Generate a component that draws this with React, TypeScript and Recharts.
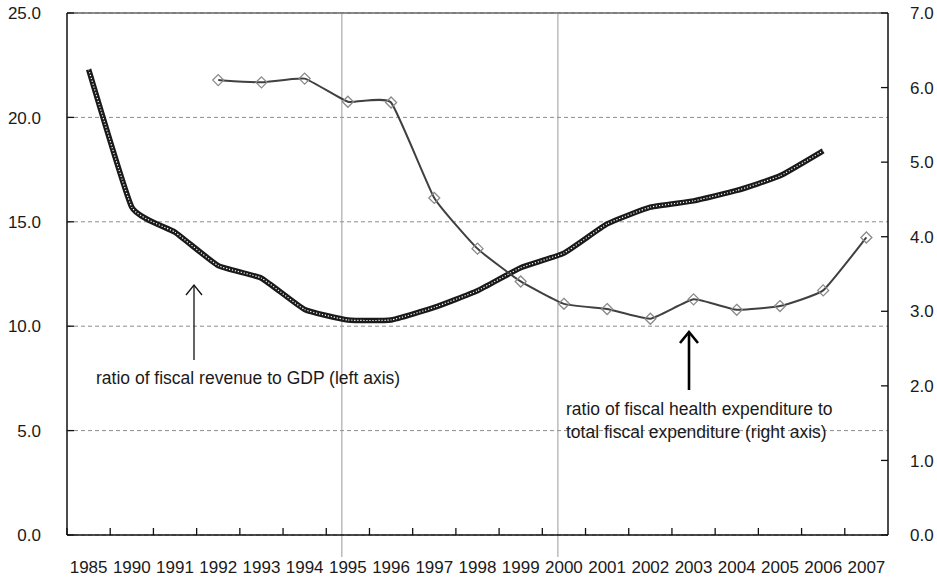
import {
  LineChart, Line, XAxis, YAxis, CartesianGrid, ReferenceLine,
} from 'recharts';

const YEARS = [
  '1985', '1990', '1991', '1992', '1993', '1994', '1995', '1996', '1997', '1998',
  '1999', '2000', '2001', '2002', '2003', '2004', '2005', '2006', '2007',
];
// 财政收入占GDP比重 (left axis, %)
const REVENUE_GDP = [
  22.3, 15.7, 14.5, 12.9, 12.3, 10.8, 10.3, 10.3, 10.9, 11.7,
  12.8, 13.5, 14.9, 15.7, 16.0, 16.5, 17.2, 18.4, null,
];
// 卫生支出占财政支出比重 (right axis, %)
const HEALTH_SHARE = [
  null, null, null, 6.10, 6.07, 6.12, 5.81, 5.80, 4.52, 3.84,
  3.40, 3.10, 3.03, 2.90, 3.16, 3.02, 3.07, 3.28, 3.99,
];
const LEFT_TICKS = [0, 5, 10, 15, 20, 25];
const RIGHT_TICKS = [0, 1, 2, 3, 4, 5, 6, 7];
const MARKED_YEARS = ['1995', '2000'];

const FONT = '"Liberation Sans", Arial, sans-serif';
const TEXT = '#1a1a1a';

const data = YEARS.map((y, i) => ({
  year: y,
  revenue: REVENUE_GDP[i],
  health: HEALTH_SHARE[i],
}));

// Excel-like smoothing: cardinal spline with some tension
function cardinalCurve(tension: number) {
  const k = (1 - tension) / 6;
  return (ctx: any) => {
    let pts: number[][] = [];
    return {
      areaStart() {},
      areaEnd() {},
      lineStart() { pts = []; },
      point(x: number, y: number) { pts.push([+x, +y]); },
      lineEnd() {
        if (!pts.length) return;
        ctx.moveTo(pts[0][0], pts[0][1]);
        for (let i = 0; i < pts.length - 1; i++) {
          const p0 = pts[i - 1] || pts[i];
          const p1 = pts[i];
          const p2 = pts[i + 1];
          const p3 = pts[i + 2] || p2;
          ctx.bezierCurveTo(
            p1[0] + k * (p2[0] - p0[0]), p1[1] + k * (p2[1] - p0[1]),
            p2[0] - k * (p3[0] - p1[0]), p2[1] - k * (p3[1] - p1[1]),
            p2[0], p2[1],
          );
        }
      },
    };
  };
}
const smooth = cardinalCurve(0.6);

function LeftTick({ x, y, payload }: any) {
  return (
    <g>
      <line x1={x} x2={x + 7} y1={y} y2={y} stroke="#111" strokeWidth={1.3} />
      <text x={x - 26} y={y} dy="0.36em" textAnchor="end" fontSize={17} fontFamily={FONT} fill={TEXT}>
        {Number(payload.value).toFixed(1)}
      </text>
    </g>
  );
}

function RightTick({ x, y, payload }: any) {
  return (
    <g>
      <line x1={x - 7} x2={x} y1={y} y2={y} stroke="#111" strokeWidth={1.3} />
      <text x={x + 22} y={y} dy="0.36em" textAnchor="start" fontSize={17} fontFamily={FONT} fill={TEXT}>
        {Number(payload.value).toFixed(1)}
      </text>
    </g>
  );
}

function YearTick({ x, y, payload }: any) {
  const off = payload.offset ?? 21.5;
  return (
    <g>
      <line x1={x - off} x2={x - off} y1={y} y2={y - 7} stroke="#111" strokeWidth={1.3} />
      <text x={x} y={y + 32} dy="0.36em" textAnchor="middle" fontSize={17} fontFamily={FONT} fill={TEXT}>
        {payload.value}
      </text>
    </g>
  );
}

// vertical markers sit a little left of the category centre and run past the axis
function MarkerLine(props: any) {
  const { x1, y1, y2 } = props;
  const top = Math.min(y1, y2);
  const bottom = Math.max(y1, y2) + 22;
  return <line x1={x1 - 6} x2={x1 - 6} y1={top} y2={bottom} stroke="#9a9a9a" strokeWidth={1} />;
}

function Diamond({ cx, cy, value }: any) {
  if (value == null || cx == null || cy == null) return null;
  const r = 5.5;
  return (
    <polygon
      points={`${cx},${cy - r} ${cx + r},${cy} ${cx},${cy + r} ${cx - r},${cy}`}
      fill="none"
      stroke="#8a8a8a"
      strokeWidth={1.3}
    />
  );
}

export default function App() {
  return (
    <div style={{ position: 'relative', width: 937, height: 578, background: '#fff' }}>
      <style>{'body{margin:0;overflow:hidden}'}</style>
      <LineChart width={937} height={578} data={data} margin={{ top: 13, right: 0, bottom: 0, left: 0 }}>
        <CartesianGrid yAxisId="left" vertical={false} stroke="#8c8c8c" strokeDasharray="4 3" />
        <XAxis
          dataKey="year"
          scale="band"
          height={43}
          tickSize={0}
          tickMargin={0}
          interval={0}
          tick={<YearTick />}
          axisLine={{ stroke: '#111', strokeWidth: 1.5 }}
          tickLine={false}
        />
        <YAxis
          yAxisId="left"
          domain={[0, 25]}
          ticks={LEFT_TICKS}
          width={67}
          tickSize={0}
          tickMargin={0}
          tick={<LeftTick />}
          tickLine={false}
          axisLine={{ stroke: '#111', strokeWidth: 1.5 }}
        />
        <YAxis
          yAxisId="right"
          orientation="right"
          domain={[0, 7]}
          ticks={RIGHT_TICKS}
          width={49}
          tickSize={0}
          tickMargin={0}
          tick={<RightTick />}
          tickLine={false}
          axisLine={{ stroke: '#111', strokeWidth: 1.5 }}
        />
        <ReferenceLine yAxisId="left" y={25} stroke="#666" strokeWidth={1.3} />
        {MARKED_YEARS.map(yr => (
          <ReferenceLine key={yr} yAxisId="left" x={yr} shape={<MarkerLine />} />
        ))}

        <Line
          yAxisId="left"
          type={smooth as any}
          dataKey="revenue"
          stroke="#1a1a1a"
          strokeWidth={5.5}
          dot={false}
          activeDot={false}
          isAnimationActive={false}
        />
        <Line
          yAxisId="left"
          type={smooth as any}
          dataKey="revenue"
          stroke="#ffffff"
          strokeWidth={1.2}
          strokeDasharray="1.2 1.8"
          dot={false}
          activeDot={false}
          isAnimationActive={false}
        />
        <Line
          yAxisId="right"
          type={smooth as any}
          dataKey="health"
          stroke="#404040"
          strokeWidth={2}
          dot={<Diamond />}
          activeDot={false}
          isAnimationActive={false}
        />
      </LineChart>

      {/* annotations */}
      <svg
        width={937}
        height={578}
        style={{ position: 'absolute', left: 0, top: 0, pointerEvents: 'none' }}
        fontFamily={FONT}
      >
        <line x1={194} x2={194} y1={360} y2={286} stroke="#111" strokeWidth={1.3} />
        <polyline points="186,295 194,285 202,295" fill="none" stroke="#111" strokeWidth={1.3} />
        <text x={96} y={384} fontSize={17.5} fill={TEXT}>ratio of fiscal revenue to GDP (left axis)</text>

        <line x1={689} x2={689} y1={390} y2={332} stroke="#000" strokeWidth={2.6} />
        <polyline points="680,343 689,332 698,343" fill="none" stroke="#000" strokeWidth={2.6} />
        <text x={566} y={415} fontSize={17.5} fill={TEXT}>ratio of fiscal health expenditure to</text>
        <text x={566} y={438} fontSize={17.5} fill={TEXT}>total fiscal expenditure (right axis)</text>
      </svg>
    </div>
  );
}
